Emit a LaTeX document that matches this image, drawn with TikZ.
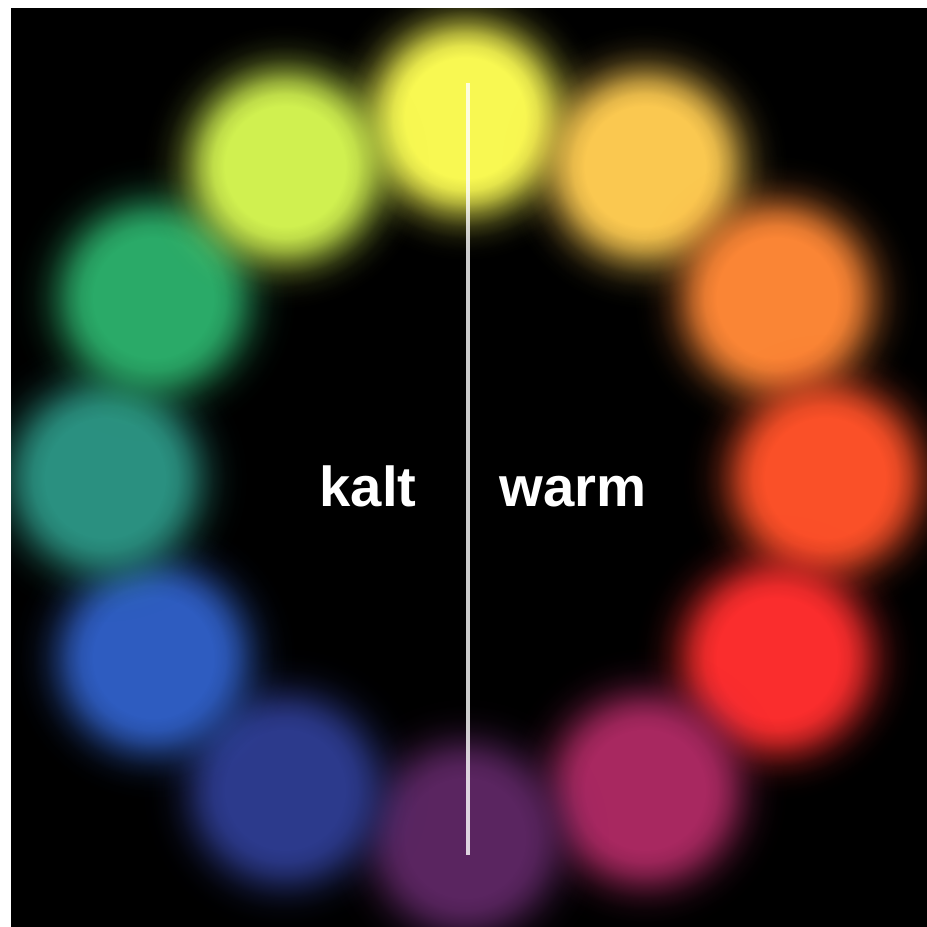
\documentclass[tikz,border=0pt]{standalone}
\usepackage{fontspec}
\setmainfont{Liberation Sans}
\usetikzlibrary{fadings}
\pgfdeclareradialshading{softdiscshade}{\pgfpoint{0bp}{0bp}}{%
  color(0bp)=(pgftransparent!0); color(10bp)=(pgftransparent!0);
  color(12bp)=(pgftransparent!8); color(14bp)=(pgftransparent!28);
  color(16bp)=(pgftransparent!55); color(18bp)=(pgftransparent!78);
  color(20bp)=(pgftransparent!92); color(22bp)=(pgftransparent!98);
  color(24bp)=(pgftransparent!100); color(50bp)=(pgftransparent!100)}
\pgfdeclarefading{softdisc}{\pgfuseshading{softdiscshade}}
\definecolor{cYellow}{RGB}{248,248,82}
\definecolor{cLightOrange}{RGB}{250,200,80}
\definecolor{cOrange}{RGB}{250,133,53}
\definecolor{cRedOrange}{RGB}{250,80,40}
\definecolor{cRed}{RGB}{250,45,45}
\definecolor{cMagenta}{RGB}{168,40,96}
\definecolor{cPurple}{RGB}{90,37,96}
\definecolor{cDarkBlue}{RGB}{44,58,140}
\definecolor{cBlue}{RGB}{46,92,192}
\definecolor{cTeal}{RGB}{42,144,128}
\definecolor{cGreen}{RGB}{42,170,104}
\definecolor{cYellowGreen}{RGB}{208,240,80}
\tikzset{
  blob/.style={fill=#1, path fading=softdisc, fit fading=true},
  label/.style={text=white, font=\bfseries\fontsize{16}{19}\selectfont, inner sep=0pt, anchor=base},
  divider/.style={white, opacity=0.8, line width=0.04cm}
}
\begin{document}
\begin{tikzpicture}[x=0.01cm, y=-0.01cm]
\useasboundingbox (0,0) rectangle (927,927);
\fill[white] (0,0) rectangle (927,927);
\fill[black] (11,8) rectangle (927,927);
\begin{scope}
\clip (11,8) rectangle (927,927);
\foreach \ang/\col in {0/cYellow,30/cLightOrange,60/cOrange,90/cRedOrange,120/cRed,150/cMagenta,180/cPurple,210/cDarkBlue,240/cBlue,270/cTeal,300/cGreen,330/cYellowGreen}{
  \fill[blob=\col] ({465+360*sin(\ang)},{478-360*cos(\ang)}) circle (1.5cm);
}
\end{scope}
\coordinate (top) at (468,83);
\coordinate (bot) at (468,855);
\draw[divider] (top) -- (bot);
\node[label] (kalt) at (368,506) {kalt};
\node[label] (warm) at (573,506) {warm};
\end{tikzpicture}
\end{document}
